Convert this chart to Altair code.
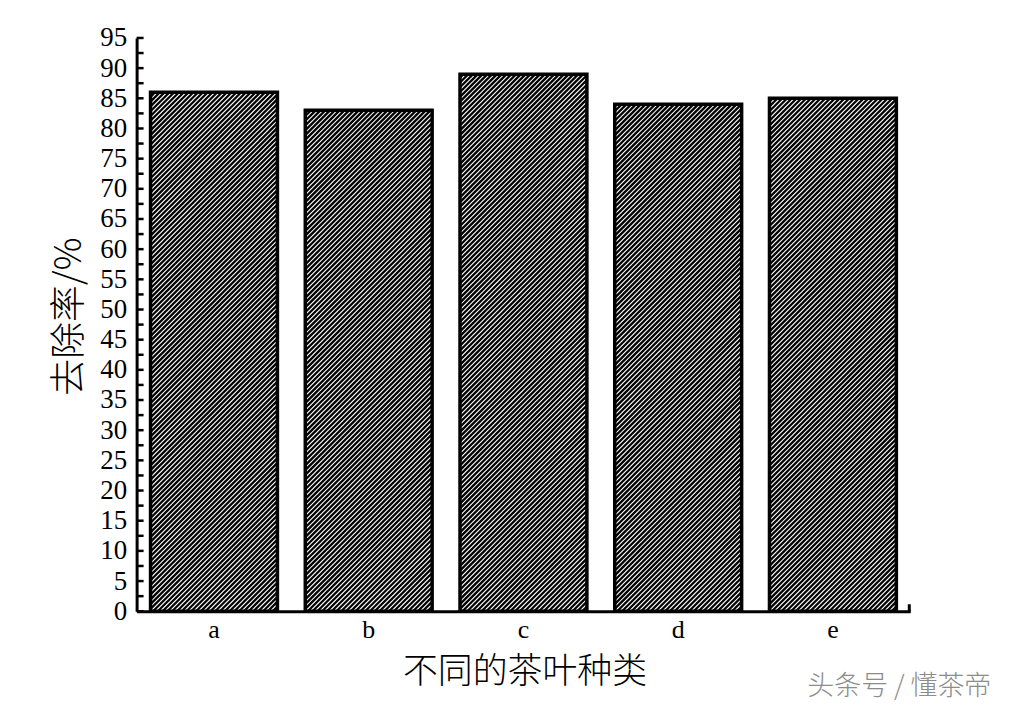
import altair as alt
import pandas as pd

# ---- data ----
categories = ["a", "b", "c", "d", "e"]
removal_rate = [86, 83, 89, 84, 85]
y_label_values = [0, 5, 10, 15, 20, 25, 30, 35, 40, 45, 50, 55, 60, 65, 70, 75, 80, 85, 90, 95]
y_tick_marks = [0, 2.5, 5, 7.5, 10, 12.5, 15, 17.5, 20, 22.5, 25, 27.5, 30, 32.5, 35, 37.5,
                40, 42.5, 45, 47.5, 50, 52.5, 55, 57.5, 60, 62.5, 65, 67.5, 70, 72.5, 75, 77.5,
                80, 82.5, 85, 87.5, 90, 92.5, 95]
x_title = "不同的茶叶种类"
y_title = "去除率/%"
watermark = "头条号 / 懂茶帝"

W, H = 776, 575
Y_MAX = 95
PAD_INNER, PAD_OUTER = 0.18, 0.09
N = len(categories)


def hatch_segments(values, period=4.8):
    """'///' hatch lines (45 degrees on screen) clipped to each bar, expressed
    in category units (x) and data units (y) so they go through the scales."""
    sx = W / N          # pixels per category unit
    sy = H / Y_MAX      # pixels per data unit
    rows = []
    for i, v in enumerate(values):
        x0 = (i + PAD_OUTER) * sx
        x1 = (i + 1 - PAD_OUTER) * sx
        hb = v * sy
        c = -x1
        while c < hb - x0:
            lo = max(x0, -c)
            hi = min(x1, hb - c)
            if hi > lo:
                rows.append({
                    "hx": lo / sx, "hx2": hi / sx,
                    "hy": (lo + c) / sy, "hy2": (hi + c) / sy,
                })
            c += period
    return pd.DataFrame(rows)


df = pd.DataFrame({"cat": categories, "rate": removal_rate})
ticks_df = pd.DataFrame({"t": y_tick_marks})
hatch_df = hatch_segments(removal_rate)

yscale = alt.Scale(domain=[0, Y_MAX], nice=False, zero=True)
y_axis = alt.Axis(
    values=y_label_values,
    title=y_title,
    titleFont="Noto Sans CJK SC",
    titleFontSize=37,
    titleFontWeight=300,
    titleColor="black",
    titleX=-67,
    titleY=279,
    titleAngle=270,
    titleAlign="center",
    titleBaseline="middle",
    labelFont="Liberation Serif",
    labelFontSize=27,
    labelColor="black",
    labelPadding=10,
    labelOverlap=False,
    labelBound=False,
    ticks=False,
    tickSize=0,
    domainWidth=3,
    domainColor="black",
    grid=False,
)

hatch = alt.Chart(hatch_df).mark_rule(color="black", strokeWidth=2.3).encode(
    x=alt.X("hx:Q", scale=alt.Scale(domain=[0, N], nice=False, zero=True), axis=None),
    x2="hx2:Q",
    y=alt.Y("hy:Q", scale=yscale, axis=y_axis, title=y_title),
    y2="hy2:Q",
)

bars = alt.Chart(df).mark_bar(
    stroke="black", strokeWidth=3.5, fill="white", fillOpacity=0
).encode(
    x=alt.X(
        "cat:N",
        sort=categories,
        scale=alt.Scale(paddingInner=PAD_INNER, paddingOuter=PAD_OUTER),
        axis=alt.Axis(
            title=x_title,
            titleFont="Noto Sans CJK SC",
            titleFontSize=35,
            titleFontWeight=300,
            titleColor="black",
            titleX=389,
            titleY=60,
            titleAlign="center",
            titleBaseline="middle",
            labelAngle=0,
            labelFont="Liberation Serif",
            labelFontSize=26,
            labelColor="black",
            labelPadding=5,
            ticks=False,
            tickSize=0,
            domainWidth=3,
            domainColor="black",
            grid=False,
        ),
    ),
    y=alt.Y("rate:Q", scale=yscale, axis=y_axis, title=y_title),
)

inner_ticks = alt.Chart(ticks_df).mark_rule(color="black", strokeWidth=2.5).encode(
    y=alt.Y("t:Q", scale=yscale, axis=y_axis, title=y_title),
    x=alt.value(0),
    x2=alt.value(7),
)

end_tick = alt.Chart(pd.DataFrame({"v": [0]})).mark_rule(color="black", strokeWidth=3).encode(
    x=alt.value(W - 1),
    y=alt.value(H),
    y2=alt.value(H - 7),
)

mark_text = alt.Chart(pd.DataFrame({"txt": [watermark]})).mark_text(
    font="Noto Sans CJK SC",
    fontSize=27,
    fontWeight=300,
    color="#8c8c8c",
    align="center",
    baseline="middle",
).encode(
    text="txt:N",
    x=alt.value(765),
    y=alt.value(651),
)

chart = alt.layer(hatch, bars, inner_ticks, end_tick, mark_text).resolve_scale(
    x="independent"
).properties(
    width=W,
    height=H,
    autosize=alt.AutoSizeParams(type="none"),
    padding={"left": 129, "top": 29, "right": 95, "bottom": 90},
    background="white",
).configure_view(stroke=None)

chart.save("out.html", embed_options={"renderer": "svg", "actions": False})
